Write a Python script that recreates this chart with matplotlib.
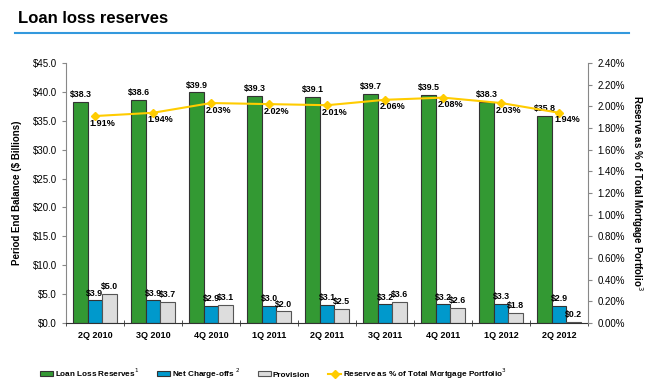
import numpy as np
import matplotlib.pyplot as plt
from matplotlib.ticker import FuncFormatter, MultipleLocator

quarters = ["2Q 2010", "3Q 2010", "4Q 2010", "1Q 2011", "2Q 2011",
            "3Q 2011", "4Q 2011", "1Q 2012", "2Q 2012"]
reserves = [38.3, 38.6, 39.9, 39.3, 39.1, 39.7, 39.5, 38.3, 35.8]
charge_offs = [3.9, 3.9, 2.9, 3.0, 3.1, 3.2, 3.2, 3.3, 2.9]
provision = [5.0, 3.7, 3.1, 2.0, 2.5, 3.6, 2.6, 1.8, 0.2]
reserve_pct = [1.91, 1.94, 2.03, 2.02, 2.01, 2.06, 2.08, 2.03, 1.94]

plt.rcParams['font.family'] = ['Liberation Sans', 'DejaVu Sans']

fig = plt.figure(figsize=(6.5, 3.91), dpi=100)
ax = fig.add_axes([0.1015, 0.174, 0.8035, 0.665])
ax2 = ax.twinx()

x = np.arange(len(quarters))
w = 0.25
green, blue, grey, gold = "#339933", "#0099CC", "#DDDDDD", "#FFCC00"

b1 = ax.bar(x - w, reserves, w, color=green, edgecolor="#333333", linewidth=0.8,
            label="Loan Loss Reserves$^1$")
b2 = ax.bar(x, charge_offs, w, color=blue, edgecolor="#333333", linewidth=0.8,
            label="Net Charge-offs $^2$")
b3 = ax.bar(x + w, provision, w, color=grey, edgecolor="#555555", linewidth=0.8,
            label="Provision")

for bars in (b1, b2, b3):
    for r in bars:
        ax.text(r.get_x() + r.get_width() / 2, r.get_height() + 0.5,
                f"${r.get_height():.1f}", ha="center", va="bottom",
                fontsize=6.3, fontweight="bold")

ln, = ax2.plot(x, reserve_pct, color=gold, marker="D", markersize=4, linewidth=1.5,
               label="Reserve as % of Total Mortgage Portfolio$^3$")
for xi, p in zip(x, reserve_pct):
    ax2.text(xi - 0.09, p - 0.065, f"{p:.2f}%", ha="left", va="center",
             fontsize=6.5, fontweight="bold")

ax.set_xlim(-0.5, len(quarters) - 0.5)
ax.set_ylim(0, 45)
ax2.set_ylim(0, 2.4)
ax.yaxis.set_major_locator(MultipleLocator(5))
ax2.yaxis.set_major_locator(MultipleLocator(0.2))
ax.yaxis.set_major_formatter(FuncFormatter(lambda v, _: f"${v:.1f}"))
ax2.yaxis.set_major_formatter(FuncFormatter(lambda v, _: f"{v:.2f}%"))

ax.set_xticks(x)
ax.set_xticklabels(quarters, fontsize=6.5, fontweight="bold")
ax.set_xticks(np.arange(-0.5, len(quarters)), minor=True)
ax.tick_params(axis="x", which="major", length=0, pad=6)
ax.tick_params(axis="x", which="minor", length=4, direction="inout", color="#333333")
ax.tick_params(axis="y", labelsize=7, length=3, color="#888888")
ax2.tick_params(axis="y", labelsize=7, length=3, color="#888888")

for a in (ax, ax2):
    a.spines["top"].set_visible(False)
ax.spines["right"].set_visible(False)
ax2.spines["left"].set_visible(False)
ax2.spines["bottom"].set_visible(False)
ax.spines["left"].set_color("#888888")
ax2.spines["right"].set_color("#888888")
ax.spines["bottom"].set_color("#333333")

ax.set_ylabel("Period End Balance ($ Billions)", fontsize=7, fontweight="bold", labelpad=8)
ax2.set_ylabel("Reserve as % of Total Mortgage Portfolio$^3$", fontsize=7,
               fontweight="bold", rotation=-90, labelpad=14)

fig.text(0.027, 0.952, "Loan loss reserves", fontsize=12, fontweight="bold", va="center")
fig.add_artist(plt.Line2D([0.023, 0.968], [0.916, 0.916], color="#3399DD", linewidth=1.5))

fig.legend([b1, b2, b3, ln],
           [b1.get_label(), b2.get_label(), b3.get_label(), ln.get_label()],
           loc="center left", bbox_to_anchor=(0.05, 0.045), ncol=4, frameon=False,
           handlelength=1.6, handleheight=0.5, handletextpad=0.2, columnspacing=2.2,
           prop={"weight": "bold", "size": 5.9})

fig.savefig("out.png", dpi=100)
